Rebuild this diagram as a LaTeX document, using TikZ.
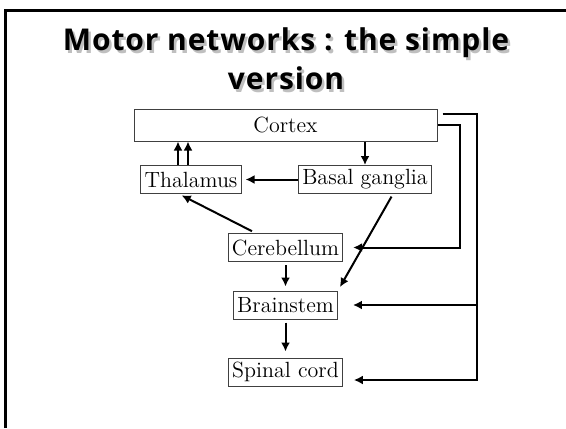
\documentclass[tikz,border=0pt]{standalone}
\usepackage{fontspec}
\newfontfamily\titlefont[LetterSpace=3]{Open Sans}
\usetikzlibrary{positioning, arrows.meta, calc}

\begin{document}
\begin{tikzpicture}[
    x=0.5pt, y=-0.5pt, % one unit is one pixel of the slide
    box/.style={draw=black!75, line width=0.5pt, font=\fontsize{11}{12}\selectfont,
        inner xsep=1.8pt, inner ysep=0pt, minimum height=14pt},
    link/.style={-{Latex[length=4.5pt,width=4.5pt]}, line width=1pt},
    heading/.style={font=\titlefont\bfseries\fontsize{15}{19.5}\selectfont, align=center, inner sep=0pt}
]
    \useasboundingbox (0,0) rectangle (566,428);
    % slide frame
    \draw[line width=1.5pt] (5.5,428) -- (5.5,10.5) -- (566,10.5);

    % title and its shadow
    \node[heading, text=black, opacity=0.25] (titleshade) at (288.5,61.5) {Motor networks : the simple\\version};
    \node[heading] (title) at (286,59) {Motor networks : the simple\\version};

    % Place the nodes
    \node[box, minimum width=151.5pt, minimum height=16pt] (cortex) at (285.5,125) {Cortex};
    \node[box] (thal) at (191,179.5) {Thalamus};
    \node[box] (basal) at (365,179.5) {Basal ganglia};
    \node[box] (cereb) at (285.5,247.5) {Cerebellum};
    \node[box] (brain) at (285.5,305) {Brainstem};
    \node[box] (spinal) at (285.5,372) {Spinal cord};

    % Draw the connections
    \draw[link] ([xshift=-6.5pt]thal.north) -- ([xshift=-6.5pt]thal.north |- cortex.south);
    \draw[link] ([xshift=-1.5pt]thal.north) -- ([xshift=-1.5pt]thal.north |- cortex.south);
    \draw[link] (basal.north |- cortex.south) -- (basal.north);
    \draw[link, shorten >=2pt] (basal) -- (thal);
    \draw[link, shorten <=1.5pt, shorten >=2pt] (cereb) -- (brain);
    \draw[link, shorten <=1.5pt, shorten >=3pt] (brain) -- (spinal);
    \draw[link, shorten <=2pt, shorten >=1.5pt] ([xshift=-15pt]cereb.north) -- ([xshift=-6pt]thal.south);
    \draw[link, shorten <=1.5pt, shorten >=2pt] ([xshift=14pt]basal.south) -- (brain.north east);

    % feedback loops on the right
    \draw[link, shorten >=5pt] (cortex.east) -- ++(11pt,0) |- (cereb.east);
    \draw[link, shorten >=5.5pt] ([xshift=2.5pt,yshift=-2.5pt]cortex.north east) -- ++(17pt,0)
        coordinate (rail) |- ([yshift=-4pt]spinal.east);
    \draw[link, shorten >=7.5pt] (rail |- brain.east) -- (brain.east);
\end{tikzpicture}
\end{document}
